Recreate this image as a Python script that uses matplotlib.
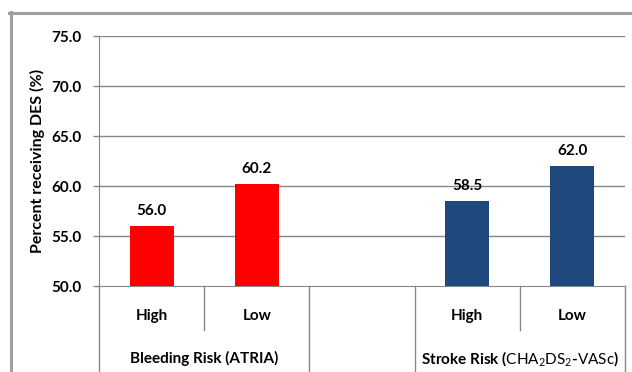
import numpy as np
import matplotlib
matplotlib.use("Agg")
import matplotlib.pyplot as plt
from matplotlib.lines import Line2D

plt.rcParams['font.family'] = ['Lato', 'DejaVu Sans']
plt.rcParams['mathtext.fontset'] = 'custom'
plt.rcParams['mathtext.rm'] = 'Lato'
plt.rcParams['mathtext.bf'] = 'Lato:bold'

# data
sub_labels = ["High", "Low", "", "High", "Low"]
group_labels = ["Bleeding Risk (ATRIA)", r"Stroke Risk ($\mathrm{CHA_2DS_2}$-$\mathrm{VASc}$)"]
values = [56.0, 60.2, np.nan, 58.5, 62.0]
colors = ["#ff0000", "#ff0000", "none", "#1f497d", "#1f497d"]
yticks = [50.0, 55.0, 60.0, 65.0, 70.0, 75.0]

W, H = 632, 372
fs = 11
fig = plt.figure(figsize=(W / 100, H / 100), dpi=100)
ax = fig.add_axes([99 / W, 1 - 286 / H, (625 - 99) / W, 250 / H])

grid_c = "#878787"
x = np.arange(len(values))
for xi, v, c in zip(x, values, colors):
    if np.isnan(v):
        continue
    ax.bar(xi, v - 50.0, bottom=50.0, width=0.42, color=c, zorder=3)
    ax.annotate(f"{v:.1f}", (xi, v), xytext=(0, 6), textcoords="offset points",
                ha="center", va="bottom", fontsize=fs, fontweight="bold")

ax.set_xlim(-0.5, len(values) - 0.5)
ax.set_ylim(50, 75)
ax.set_yticks(yticks)
ax.set_yticklabels([f"{t:.1f}" for t in yticks], fontsize=fs, fontweight="bold")
ax.tick_params(axis="y", length=4, width=1, color=grid_c, pad=8.5)
ax.set_xticks([])
for t in yticks[1:]:
    ax.axhline(t, color=grid_c, lw=1, zorder=1)
for s in ["top", "right"]:
    ax.spines[s].set_visible(False)
ax.spines["left"].set_color(grid_c)
ax.spines["bottom"].set_color(grid_c)
ax.set_ylabel("Percent receiving DES (%)", fontsize=11.5, fontweight="bold")
ax.yaxis.set_label_coords(-0.103, 0.5)

# category axis lines and labels
tr = ax.get_xaxis_transform()
short = [0.5, 3.5]
for b in np.arange(-0.5, len(values), 1.0):
    y0 = -0.176 if b in short else -0.36
    ax.plot([b, b], [0, y0], color=grid_c, lw=1, transform=tr, clip_on=False)
for xi, lab in zip(x, sub_labels):
    ax.text(xi, -0.12, lab, transform=tr, ha="center", va="center",
            fontsize=fs, fontweight="bold")
for xc, lab in zip([0.5, 3.5], group_labels):
    ax.text(xc, -0.29, lab, transform=tr, ha="center", va="center",
            fontsize=fs, fontweight="bold")

# outer frame
fig.add_artist(Line2D([9 / W, 1], [1 - 13 / H] * 2, color="#a0a0a0", lw=2.2,
                      transform=fig.transFigure))
fig.add_artist(Line2D([11 / W] * 2, [0, 1 - 12 / H], color="#a0a0a0", lw=2.2,
                      transform=fig.transFigure))

fig.savefig("out.png", dpi=100)
